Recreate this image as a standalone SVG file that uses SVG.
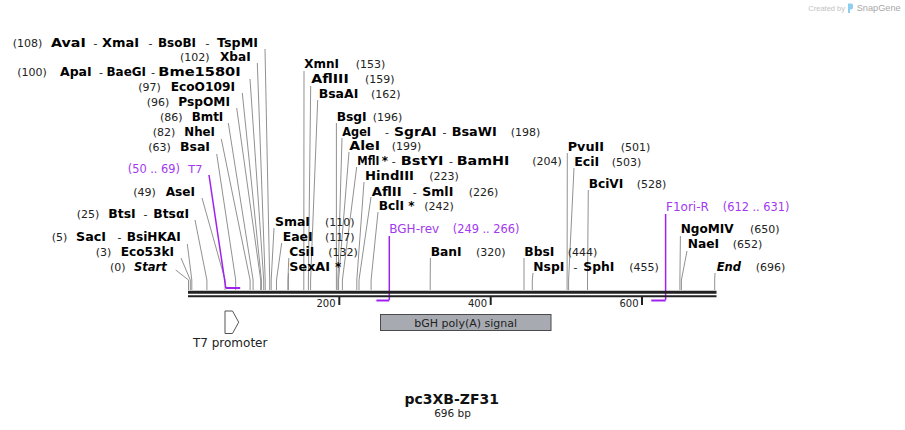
<svg xmlns="http://www.w3.org/2000/svg" width="905" height="430" viewBox="0 0 905 430">
<style>
text{font-family:"DejaVu Sans",Verdana,sans-serif}
.p{font-size:11px;fill:#222}
.b{font-size:12px;font-weight:bold;fill:#000}
.bi{font-size:12px;font-weight:bold;font-style:italic;fill:#000}
.pr{font-size:12px;fill:#a238f0}
.prn{font-size:11.4px;fill:#a238f0}
.c{fill:none;stroke:#919191;stroke-width:1}
.pc{fill:none;stroke:#a020f0;stroke-width:1.5}
.pa{fill:none;stroke:#a020f0;stroke-width:2}
.tick{stroke:#222;stroke-width:2}
.tl{font-size:10px;fill:#222;text-anchor:end}
</style>
<rect width="905" height="430" fill="#fff"/>

<g id="logo">
<text x="808.3" y="10.5" style="font-family:'Liberation Sans',Arial,sans-serif;font-size:7.5px;fill:#c2c2c2">Created by</text>
<path d="M848,3.5 h3 a2,2 0 0 1 2,2 v2 a2,2 0 0 1 -2,2 h-1 v3.5 h-2 z" fill="#8dcdf2"/>
<text x="856.7" y="11" style="font-family:'Liberation Sans',Arial,sans-serif;font-size:9.2px;fill:#a8a8a8">SnapGene</text>
</g>

<g id="connectors">
<polyline class="c" points="265,49 269.7,280 269.7,290"/>
<polyline class="c" points="257.3,63 265.2,280 265.2,290"/>
<polyline class="c" points="250,79 263.7,280 263.7,290"/>
<polyline class="c" points="242.3,93 261.4,280 261.4,290"/>
<polyline class="c" points="236.7,108 260.7,280 260.7,290"/>
<polyline class="c" points="228.3,123 253.1,280 253.1,290"/>
<polyline class="c" points="221.3,139 250.1,280 250.1,290"/>
<polyline class="c" points="216.7,154 235.7,280 235.7,290"/>
<polyline class="c" points="202,198 225.1,280 225.1,290"/>
<polyline class="c" points="195,220 206.9,280 206.9,290"/>
<polyline class="c" points="187.3,244 191.8,280 191.8,290"/>
<polyline class="c" points="181,258 190.3,280 190.3,290"/>
<polyline class="c" points="175.7,270 188.5,280 188.5,290"/>
<polyline class="c" points="274,228 271.2,280 271.2,290"/>
<polyline class="c" points="281.7,243 276.5,280 276.5,290"/>
<polyline class="c" points="288.8,258 287.9,280 287.9,290"/>
<polyline class="c" points="288.6,273 288.4,280 288.4,290"/>
<polyline class="c" points="304,71 303.8,280 303.8,290"/>
<polyline class="c" points="310.7,86 308.4,280 308.4,290"/>
<polyline class="c" points="317.7,100 310.6,280 310.6,290"/>
<polyline class="c" points="336.4,123 336.4,280 336.4,290"/>
<polyline class="c" points="342,138 337.9,280 337.9,290"/>
<polyline class="c" points="349,152 338.6,280 338.6,290"/>
<polyline class="c" points="356.7,167 342.4,280 342.4,290"/>
<polyline class="c" points="364,182 356.8,280 356.8,290"/>
<polyline class="c" points="371,197 359,280 359,290"/>
<polyline class="c" points="378,212 371.1,280 371.1,290"/>
<polyline class="c" points="430.4,258 430.2,280 430.2,290"/>
<polyline class="c" points="524,258 524,280 524,290"/>
<polyline class="c" points="533,273 532.3,280 532.3,290"/>
<polyline class="c" points="567.3,153 567.1,280 567.1,290"/>
<polyline class="c" points="574,168 568.6,280 568.6,290"/>
<polyline class="c" points="588.3,190 587.5,280 587.5,290"/>
<polyline class="c" points="680.4,236 679.9,280 679.9,290"/>
<polyline class="c" points="687,251 681.4,280 681.4,290"/>
<polyline class="c" points="715,273 714.7,280 714.7,290"/>
<polyline class="pc" points="209,175 225.8,288"/>
<line class="pc" x1="389.3" y1="236" x2="389.3" y2="300"/>
<line class="pc" x1="665.6" y1="214" x2="665.6" y2="300"/>
</g>

<g id="sequence">
<line x1="188" y1="292.3" x2="716.5" y2="292.3" stroke="#222" stroke-width="3"/>
<line x1="188" y1="296.2" x2="716.5" y2="296.2" stroke="#222" stroke-width="2"/>
<line class="tick" x1="339.3" y1="297" x2="339.3" y2="305"/>
<line class="tick" x1="490.7" y1="297" x2="490.7" y2="305"/>
<line class="tick" x1="642" y1="297" x2="642" y2="305"/>
<text class="tl" x="335.5" y="307">200</text>
<text class="tl" x="487" y="307">400</text>
<text class="tl" x="638.5" y="307">600</text>
</g>

<g id="primer-T7">
<polyline class="pa" points="225.8,288 240.2,288"/>
<text class="prn" x="127.7" y="172.5">(50 .. 69)</text>
<text class="pr" x="188.3" y="172.5" style="font-size:11.3px">T7</text>
</g>
<g id="primer-BGH-rev">
<polyline class="pa" points="376.4,300.5 389.3,300.5"/>
<text class="pr" x="389.3" y="233.3">BGH-rev</text>
<text class="prn" x="452.7" y="233.3">(249 .. 266)</text>
</g>
<g id="primer-F1ori-R">
<polyline class="pa" points="651.3,300.5 665.6,300.5"/>
<text class="pr" x="666" y="211">F1ori-R</text>
<text class="prn" x="722.7" y="211">(612 .. 631)</text>
</g>

<g id="feature-T7-promoter">
<path d="M225,311 H232.5 L238.7,322.2 L232.5,333.5 H225 Z" fill="#fff" stroke="#555" stroke-width="1"/>
<text x="230.2" y="347.3" text-anchor="middle" style="font-size:12px;fill:#222">T7 promoter</text>
</g>
<g id="feature-bGH">
<rect x="380.5" y="314.5" width="170.5" height="16" fill="#a7abb1" stroke="#4a4a4a" stroke-width="1"/>
<text x="465.7" y="326.5" text-anchor="middle" style="font-size:11px;fill:#222">bGH poly(A) signal</text>
</g>

<g id="site-AvaI">
<text class="p" x="12.7" y="46.5">(108)</text>
<text class="b" x="51" y="46.5" textLength="34.7" lengthAdjust="spacingAndGlyphs">AvaI</text>
<text class="p" x="93.5" y="46.5">-</text>
<text class="b" x="102" y="46.5" textLength="37" lengthAdjust="spacingAndGlyphs">XmaI</text>
<text class="p" x="148.5" y="46.5">-</text>
<text class="b" x="158" y="46.5" textLength="38" lengthAdjust="spacingAndGlyphs">BsoBI</text>
<text class="p" x="205.5" y="46.5">-</text>
<text class="b" x="217" y="46.5" textLength="41" lengthAdjust="spacingAndGlyphs">TspMI</text>
</g>
<g id="site-XbaI">
<text class="p" x="180" y="61.3">(102)</text>
<text class="b" x="220" y="61.3" textLength="30.7" lengthAdjust="spacingAndGlyphs">XbaI</text>
</g>
<g id="site-ApaI">
<text class="p" x="17.3" y="76.3">(100)</text>
<text class="b" x="60" y="76.3" textLength="31.7" lengthAdjust="spacingAndGlyphs">ApaI</text>
<text class="p" x="99" y="76.3">-</text>
<text class="b" x="106.5" y="76.3" textLength="39.5" lengthAdjust="spacingAndGlyphs">BaeGI</text>
<text class="p" x="151" y="76.3">-</text>
<text class="b" x="158.3" y="76.3" textLength="82.4" lengthAdjust="spacingAndGlyphs">Bme1580I</text>
</g>
<g id="site-EcoO109I">
<text class="p" x="138.3" y="91.3">(97)</text>
<text class="b" x="170.7" y="91.3" textLength="64.3" lengthAdjust="spacingAndGlyphs">EcoO109I</text>
</g>
<g id="site-PspOMI">
<text class="p" x="146.7" y="106.3">(96)</text>
<text class="b" x="178.3" y="106.3" textLength="51.7" lengthAdjust="spacingAndGlyphs">PspOMI</text>
</g>
<g id="site-BmtI">
<text class="p" x="160" y="121.3">(86)</text>
<text class="b" x="191.7" y="121.3" textLength="31.6" lengthAdjust="spacingAndGlyphs">BmtI</text>
</g>
<g id="site-NheI">
<text class="p" x="152.7" y="136.3">(82)</text>
<text class="b" x="184.3" y="136.3" textLength="30.7" lengthAdjust="spacingAndGlyphs">NheI</text>
</g>
<g id="site-BsaI">
<text class="p" x="148.3" y="151.3">(63)</text>
<text class="b" x="180" y="151.3" textLength="30" lengthAdjust="spacingAndGlyphs">BsaI</text>
</g>
<g id="site-AseI">
<text class="p" x="133.3" y="195.8">(49)</text>
<text class="b" x="165.7" y="195.8" textLength="29.3" lengthAdjust="spacingAndGlyphs">AseI</text>
</g>
<g id="site-BtsI">
<text class="p" x="76.7" y="217.8">(25)</text>
<text class="b" x="108.3" y="217.8" textLength="27.4" lengthAdjust="spacingAndGlyphs">BtsI</text>
<text class="p" x="143.5" y="217.8">-</text>
<text class="b" x="153.3" y="217.8" textLength="35.7" lengthAdjust="spacingAndGlyphs">BtsαI</text>
</g>
<g id="site-SacI">
<text class="p" x="51.7" y="240.8">(5)</text>
<text class="b" x="76" y="240.8" textLength="30" lengthAdjust="spacingAndGlyphs">SacI</text>
<text class="p" x="117.5" y="240.8">-</text>
<text class="b" x="126.7" y="240.8" textLength="54" lengthAdjust="spacingAndGlyphs">BsiHKAI</text>
</g>
<g id="site-Eco53kI">
<text class="p" x="95.7" y="255.8">(3)</text>
<text class="b" x="120.7" y="255.8" textLength="53.3" lengthAdjust="spacingAndGlyphs">Eco53kI</text>
</g>
<g id="site-Start">
<text class="p" x="110" y="270.8">(0)</text>
<text class="bi" x="134" y="270.8" textLength="32.7" lengthAdjust="spacingAndGlyphs">Start</text>
</g>

<g id="site-SmaI">
<text class="b" x="275" y="225.5" textLength="35" lengthAdjust="spacingAndGlyphs">SmaI</text>
<text class="p" x="325" y="225.5">(110)</text>
</g>
<g id="site-EaeI">
<text class="b" x="282.7" y="240.8" textLength="30" lengthAdjust="spacingAndGlyphs">EaeI</text>
<text class="p" x="325" y="240.8">(117)</text>
</g>
<g id="site-CsiI">
<text class="b" x="289.3" y="255.5" textLength="25" lengthAdjust="spacingAndGlyphs">CsiI</text>
<text class="p" x="328.3" y="255.5">(132)</text>
</g>
<g id="site-SexAI">
<text class="b" x="289.3" y="270.8" textLength="40.7" lengthAdjust="spacingAndGlyphs">SexAI</text>
<text class="b" x="335" y="270.8">*</text>
</g>
<g id="site-XmnI">
<text class="b" x="304.3" y="68.3" textLength="34.7" lengthAdjust="spacingAndGlyphs">XmnI</text>
<text class="p" x="355.7" y="68.3">(153)</text>
</g>
<g id="site-AflIII">
<text class="b" x="311.3" y="82.8" textLength="37.4" lengthAdjust="spacingAndGlyphs">AflIII</text>
<text class="p" x="365" y="82.8">(159)</text>
</g>
<g id="site-BsaAI">
<text class="b" x="318.7" y="97.5" textLength="39.6" lengthAdjust="spacingAndGlyphs">BsaAI</text>
<text class="p" x="371" y="97.5">(162)</text>
</g>
<g id="site-BsgI">
<text class="b" x="336.7" y="120.5" textLength="30" lengthAdjust="spacingAndGlyphs">BsgI</text>
<text class="p" x="372.7" y="120.5">(196)</text>
</g>
<g id="site-AgeI">
<text class="b" x="342.3" y="135.5" textLength="28.7" lengthAdjust="spacingAndGlyphs">AgeI</text>
<text class="p" x="385" y="135.5">-</text>
<text class="b" x="394" y="135.5" textLength="42.7" lengthAdjust="spacingAndGlyphs">SgrAI</text>
<text class="p" x="442.5" y="135.5">-</text>
<text class="b" x="451.7" y="135.5" textLength="45" lengthAdjust="spacingAndGlyphs">BsaWI</text>
<text class="p" x="510.7" y="135.5">(198)</text>
</g>
<g id="site-AleI">
<text class="b" x="349.3" y="150.3" textLength="30.7" lengthAdjust="spacingAndGlyphs">AleI</text>
<text class="p" x="391.7" y="150.3">(199)</text>
</g>
<g id="site-MflI">
<text class="b" x="357.3" y="164.8" textLength="22" lengthAdjust="spacingAndGlyphs">MflI</text>
<text class="b" x="381.7" y="164.8">*</text>
<text class="p" x="391.7" y="164.8">-</text>
<text class="b" x="400.7" y="164.8" textLength="42.7" lengthAdjust="spacingAndGlyphs">BstYI</text>
<text class="p" x="449" y="164.8">-</text>
<text class="b" x="456.7" y="164.8" textLength="52.6" lengthAdjust="spacingAndGlyphs">BamHI</text>
<text class="p" x="532.3" y="164.8">(204)</text>
</g>
<g id="site-HindIII">
<text class="b" x="365" y="180" textLength="49" lengthAdjust="spacingAndGlyphs">HindIII</text>
<text class="p" x="429.3" y="180">(223)</text>
</g>
<g id="site-AflII">
<text class="b" x="371.7" y="195.5" textLength="30" lengthAdjust="spacingAndGlyphs">AflII</text>
<text class="p" x="412.7" y="195.5">-</text>
<text class="b" x="422.3" y="195.5" textLength="31" lengthAdjust="spacingAndGlyphs">SmlI</text>
<text class="p" x="468.7" y="195.5">(226)</text>
</g>
<g id="site-BclI">
<text class="b" x="378.7" y="210.3" textLength="25.3" lengthAdjust="spacingAndGlyphs">BclI</text>
<text class="b" x="408.3" y="210.3">*</text>
<text class="p" x="424.3" y="210.3">(242)</text>
</g>
<g id="site-BanI">
<text class="b" x="430.7" y="255.5" textLength="31" lengthAdjust="spacingAndGlyphs">BanI</text>
<text class="p" x="476" y="255.5">(320)</text>
</g>
<g id="site-BbsI">
<text class="b" x="524.3" y="255.8" textLength="30" lengthAdjust="spacingAndGlyphs">BbsI</text>
<text class="p" x="567.7" y="255.8">(444)</text>
</g>
<g id="site-NspI">
<text class="b" x="533.3" y="270.8" textLength="31" lengthAdjust="spacingAndGlyphs">NspI</text>
<text class="p" x="573.5" y="270.8">-</text>
<text class="b" x="583.3" y="270.8" textLength="31" lengthAdjust="spacingAndGlyphs">SphI</text>
<text class="p" x="629.3" y="270.8">(455)</text>
</g>
<g id="site-PvuII">
<text class="b" x="567.7" y="150.7" textLength="36.3" lengthAdjust="spacingAndGlyphs">PvuII</text>
<text class="p" x="620.7" y="150.7">(501)</text>
</g>
<g id="site-EciI">
<text class="b" x="574.3" y="166" textLength="25" lengthAdjust="spacingAndGlyphs">EciI</text>
<text class="p" x="611.7" y="166">(503)</text>
</g>
<g id="site-BciVI">
<text class="b" x="588.7" y="188" textLength="34.6" lengthAdjust="spacingAndGlyphs">BciVI</text>
<text class="p" x="636.7" y="188">(528)</text>
</g>
<g id="site-NgoMIV">
<text class="b" x="680.7" y="233" textLength="53" lengthAdjust="spacingAndGlyphs">NgoMIV</text>
<text class="p" x="750" y="233">(650)</text>
</g>
<g id="site-NaeI">
<text class="b" x="687.7" y="248" textLength="31.3" lengthAdjust="spacingAndGlyphs">NaeI</text>
<text class="p" x="732.7" y="248">(652)</text>
</g>
<g id="site-End">
<text class="bi" x="716.7" y="270.8" textLength="24.3" lengthAdjust="spacingAndGlyphs">End</text>
<text class="p" x="755.7" y="270.8">(696)</text>
</g>

<g id="title">
<text x="451.7" y="404" text-anchor="middle" style="font-size:14px;font-weight:bold;fill:#111">pc3XB-ZF31</text>
<text x="452.5" y="416.5" text-anchor="middle" style="font-size:10.5px;fill:#222">696 bp</text>
</g>
</svg>
